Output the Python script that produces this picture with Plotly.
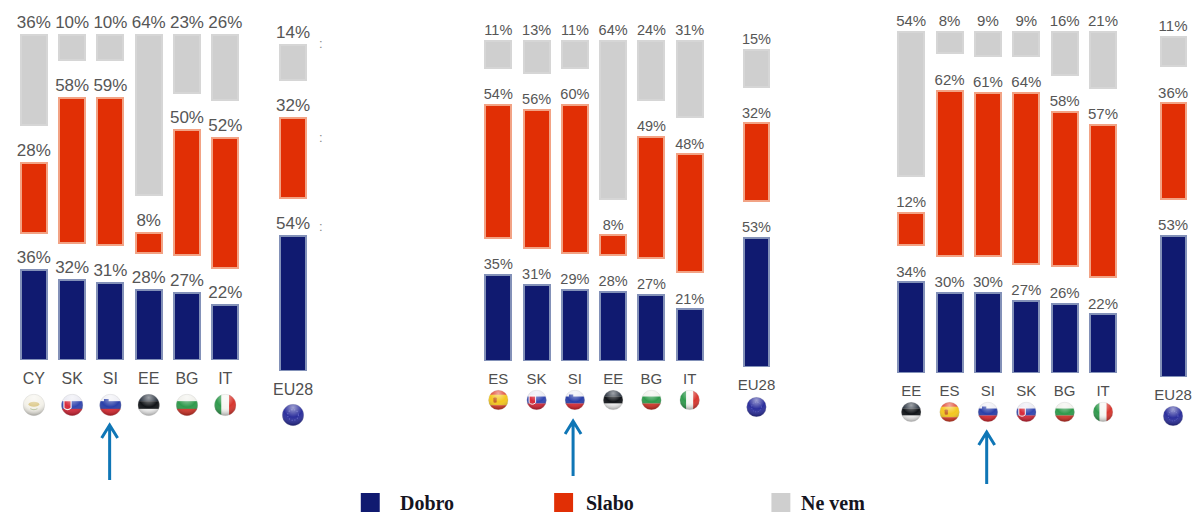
import base64
import plotly.graph_objects as go

W, H = 1194, 514

# Survey shares per country, one block per question
p1_codes = ["CY", "SK", "SI", "EE", "BG", "IT"]
p1_dobro = [36, 32, 31, 28, 27, 22]
p1_slabo = [28, 58, 59, 8, 50, 52]
p1_nevem = [36, 10, 10, 64, 23, 26]
p1_eu = [54, 32, 14]

p2_codes = ["ES", "SK", "SI", "EE", "BG", "IT"]
p2_dobro = [35, 31, 29, 28, 27, 21]
p2_slabo = [54, 56, 60, 8, 49, 48]
p2_nevem = [11, 13, 11, 64, 24, 31]
p2_eu = [53, 32, 15]

p3_codes = ["EE", "ES", "SI", "SK", "BG", "IT"]
p3_dobro = [34, 30, 30, 27, 26, 22]
p3_slabo = [12, 62, 61, 64, 58, 57]
p3_nevem = [54, 8, 9, 9, 16, 21]
p3_eu = [53, 36, 11]

legend_names = ["Dobro", "Slabo", "Ne vem"]

NAVY, RED, GREY = "#101a70", "#e12f05", "#cfcfcf"
NAVY_EDGE, RED_EDGE, GREY_EDGE = "#8391b8", "#f2a385", "#d6d6d6"
TEXT = "#565656"
HEADROOM = 3  # spare axis units above the stack so the top labels stay in range

# Panel geometry in page pixels
panels = [
    dict(codes=p1_codes, d=p1_dobro, s=p1_slabo, n=p1_nevem, eu=p1_eu, gap=15, font=17, tick=16, lift=1.0,
         left=12.8, right=243.2, top=35, base=360, eu_x=292, eu_top=45, eu_base=371,
         flag_y=405, eu_flag_y=415, flag_d=23, arrow=(108, 425, 480)),
    dict(codes=p2_codes, d=p2_dobro, s=p2_slabo, n=p2_nevem, eu=p2_eu, gap=15, font=14.5, tick=15, lift=0.8,
         left=478.8, right=709.2, top=41, base=361, eu_x=757, eu_top=50, eu_base=367,
         flag_y=400, eu_flag_y=407, flag_d=21, arrow=(573, 421, 476)),
    dict(codes=p3_codes, d=p3_dobro, s=p3_slabo, n=p3_nevem, eu=p3_eu, gap=14, font=15, tick=15, lift=0.8,
         left=893, right=1124, top=32, base=373, eu_x=1175, eu_top=37, eu_base=377,
         flag_y=412, eu_flag_y=416, flag_d=21, arrow=(988, 432, 484)),
]

# Clipped label fragments beside the first EU28 column
edge_marks = [(316, 34), (316, 128), (316, 226)]

FLAGS = {
    "CY": dict(stripes=["#f4f2ea"], extra='<ellipse cx="32" cy="30" rx="15" ry="7" fill="#dcc98a"/><path d="M22 42 q10 6 20 0" stroke="#b9c6a0" stroke-width="3" fill="none"/>'),
    "SK": dict(stripes=["#e9e9f2", "#3347b0", "#d8293a"], extra='<path d="M9 20 h20 v20 q-10 10 -20 0z" fill="#d8293a" stroke="#fff" stroke-width="3"/>'),
    "SI": dict(stripes=["#eeeef4", "#2a3fa8", "#dc2a32"], extra='<path d="M14 15 h13 v11 q-6 6 -13 0z" fill="#2a3fa8"/>'),
    "EE": dict(stripes=["#2b3440", "#111418", "#f2f2f2"], extra=""),
    "BG": dict(stripes=["#f0f0ea", "#2f9a4c", "#d5352a"], extra=""),
    "IT": dict(stripes=["#2f9a4c", "#f6f6f2", "#d8362e"], vertical=True, extra=""),
    "ES": dict(stripes=["#e0402a", "#f4c71f", "#f4c71f", "#e0402a"], extra='<rect x="17" y="24" width="10" height="16" rx="3" fill="#c4682a"/>'),
    "EU": dict(stripes=["#2c2f9c"], extra='<circle cx="32" cy="32" r="15" fill="none" stroke="#5f62c4" stroke-width="3" stroke-dasharray="3 5"/>'),
}


def flag_source(code):
    f = FLAGS[code]
    k = len(f["stripes"])
    bands = ""
    for i, c in enumerate(f["stripes"]):
        if f.get("vertical"):
            bands += f'<rect x="{i * 64 / k}" y="0" width="{64 / k + 0.5}" height="64" fill="{c}"/>'
        else:
            bands += f'<rect x="0" y="{i * 64 / k}" width="64" height="{64 / k + 0.5}" fill="{c}"/>'
    svg = (
        '<svg xmlns="http://www.w3.org/2000/svg" width="128" height="128" viewBox="0 0 64 64">'
        '<defs><clipPath id="c"><circle cx="32" cy="32" r="30"/></clipPath>'
        '<radialGradient id="g" cx="50%" cy="18%" r="75%">'
        '<stop offset="0" stop-color="#fff" stop-opacity=".55"/>'
        '<stop offset=".55" stop-color="#fff" stop-opacity="0"/>'
        '<stop offset="1" stop-color="#000" stop-opacity=".28"/></radialGradient></defs>'
        f'<g clip-path="url(#c)">{bands}{f["extra"]}<rect width="64" height="64" fill="url(#g)"/></g>'
        '<circle cx="32" cy="32" r="30" fill="none" stroke="#bbb" stroke-opacity=".5" stroke-width="1.5"/></svg>'
    )
    return "data:image/svg+xml;base64," + base64.b64encode(svg.encode()).decode()


def px(x):
    return x / W


def py(y):
    return 1 - y / H


fig = go.Figure()
layout = dict(shapes=[], annotations=[], images=[])
axis_no = 0


def add_group(codes, dobro, slabo, nevem, gap, x0, x1, top, base, font, tick, lift):
    """One stacked column group with invisible spacers between the three answers."""
    global axis_no
    axis_no += 1
    sfx = "" if axis_no == 1 else str(axis_no)
    xa, ya = "x" + sfx, "y" + sfx
    spacer = [gap] * len(codes)
    stack = [
        (dobro, NAVY, NAVY_EDGE, "Dobro"),
        (spacer, "rgba(0,0,0,0)", "rgba(0,0,0,0)", None),
        (slabo, RED, RED_EDGE, "Slabo"),
        (spacer, "rgba(0,0,0,0)", "rgba(0,0,0,0)", None),
        (nevem, GREY, GREY_EDGE, "Ne vem"),
    ]
    running = [0] * len(codes)
    for vals, fill, edge, name in stack:
        fig.add_trace(go.Bar(
            x=codes, y=vals, xaxis=xa, yaxis=ya, width=0.68, showlegend=False,
            name=name or "", hoverinfo="skip" if name is None else "x+y+name",
            marker=dict(color=fill, line=dict(color=edge, width=2)),
        ))
        running = [r + v for r, v in zip(running, vals)]
        if name is not None:
            fig.add_trace(go.Scatter(
                x=codes, y=[r + lift for r in running], xaxis=xa, yaxis=ya, mode="text", showlegend=False,
                text=[f"{v}%" for v in vals], textposition="top center",
                textfont=dict(family="Liberation Sans", size=font, color=TEXT),
                cliponaxis=False, hoverinfo="skip",
            ))
    layout["xaxis" + sfx] = dict(
        domain=[px(x0), px(x1)], anchor=ya, type="category", range=[-0.5, len(codes) - 0.5],
        showgrid=False, zeroline=False, showline=False, ticks="outside", ticklen=4,
        tickcolor="rgba(0,0,0,0)", tickfont=dict(family="Liberation Sans", size=tick, color="#4f4f4f"),
    )
    span = 100 + 2 * gap
    scale = (base - top) / span
    layout["yaxis" + sfx] = dict(
        domain=[py(base), py(top - HEADROOM * scale)], anchor=xa, range=[0, span + HEADROOM],
        visible=False, fixedrange=True,
    )


for p in panels:
    add_group(p["codes"], p["d"], p["s"], p["n"], p["gap"], p["left"], p["right"],
              p["top"], p["base"], p["font"], p["tick"], p["lift"])
    add_group(["EU28"], p["eu"][:1], p["eu"][1:2], p["eu"][2:], p["gap"],
              p["eu_x"] - 18.5, p["eu_x"] + 18.5, p["eu_top"], p["eu_base"], p["font"], p["tick"], p["lift"])

    # Round flags below the country codes
    step = (p["right"] - p["left"]) / 6
    d = p["flag_d"]
    marks = [(c, p["left"] + step * (i + 0.5), p["flag_y"]) for i, c in enumerate(p["codes"])]
    marks.append(("EU", p["eu_x"], p["eu_flag_y"]))
    for code, cx, cy in marks:
        layout["images"].append(dict(
            source=flag_source(code), xref="paper", yref="paper", x=px(cx), y=py(cy),
            sizex=d / W, sizey=d / H, xanchor="center", yanchor="middle", sizing="stretch", layer="above",
        ))

    # Arrow pointing at Slovenia
    ax, ay_tip, ay_end = p["arrow"]
    head = (
        f"M {px(ax)} {py(ay_end)} L {px(ax)} {py(ay_tip)} "
        f"M {px(ax - 8)} {py(ay_tip + 13)} L {px(ax)} {py(ay_tip)} L {px(ax + 8)} {py(ay_tip + 13)}"
    )
    layout["shapes"].append(dict(type="path", xref="paper", yref="paper", path=head,
                                 line=dict(color="#0f76b6", width=3)))

for mx, my in edge_marks:
    layout["annotations"].append(dict(
        xref="paper", yref="paper", x=px(mx), y=py(my), text=":", showarrow=False,
        font=dict(family="Liberation Sans", size=13, color="#8a8a8a"),
    ))

# Legend row along the bottom edge
legend_swatch_x = [360, 554, 772]
legend_text_x = [397, 584, 800]
for name, sx, tx, fill in zip(legend_names, legend_swatch_x, legend_text_x, [NAVY, RED, GREY]):
    layout["shapes"].append(dict(
        type="rect", xref="paper", yref="paper", x0=px(sx), x1=px(sx + 19), y0=py(512), y1=py(493),
        fillcolor=fill, line=dict(width=0),
    ))
    layout["annotations"].append(dict(
        xref="paper", yref="paper", x=px(tx), y=py(503), xanchor="left", yanchor="middle",
        text=f"<b>{name}</b>", showarrow=False,
        font=dict(family="Liberation Serif", size=20, color="#15151f"),
    ))

fig.update_layout(
    width=W, height=H, margin=dict(l=0, r=0, t=0, b=0), barmode="stack", bargap=0.3,
    paper_bgcolor="white", plot_bgcolor="white", showlegend=False, **layout,
)
fig.write_html("out.html")
